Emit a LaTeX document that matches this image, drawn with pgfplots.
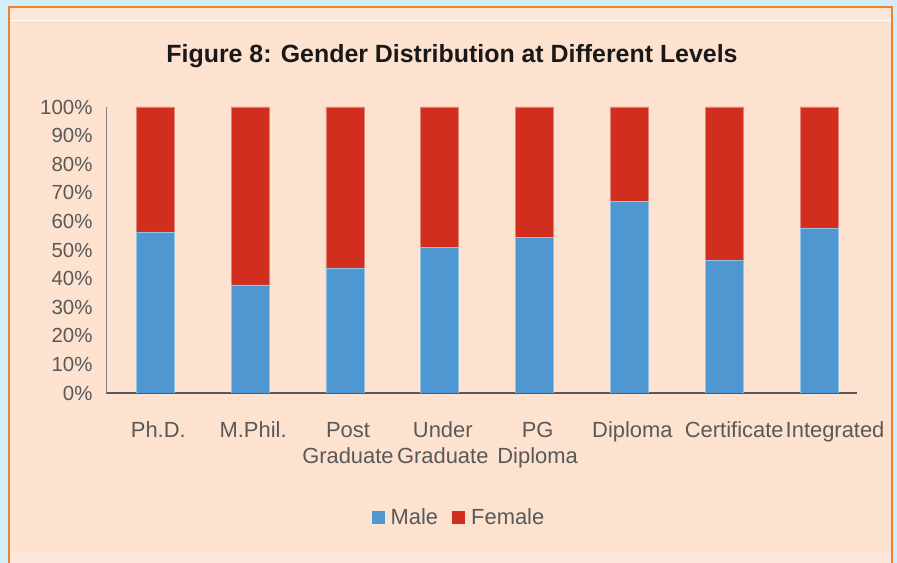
\documentclass[border=0pt]{standalone}
\usepackage{pgfplots}
\usepackage{pgfplotstable}
\pgfplotsset{compat=1.18}
\usepackage{fontspec}
\setmainfont{Liberation Sans}

\definecolor{bgblue}{HTML}{D2EEFA}
\definecolor{peach}{HTML}{FDE2CF}
\definecolor{peachlight}{HTML}{FCE7DA}
\definecolor{framec}{HTML}{EE8233}
\definecolor{male}{HTML}{4E97D1}
\definecolor{female}{HTML}{D12E1F}
\definecolor{txt}{HTML}{595959}

% share of male / female students, per level (%)
\pgfplotstableread{
x male female
0 56.3 43.7
1 37.8 62.2
2 43.7 56.3
3 50.9 49.1
4 54.3 45.7
5 67.0 33.0
6 46.3 53.7
7 57.7 42.3
}\gender

\begin{document}
\begin{tikzpicture}
\path[use as bounding box] (0bp,0bp) rectangle (897bp,563bp);
\fill[bgblue] (0bp,0bp) rectangle (897bp,563bp);
\fill[peach] (9bp,-5bp) rectangle (892bp,555bp);
\fill[peachlight] (10bp,543bp) rectangle (891bp,554bp);
\draw[white, line width=1bp] (10bp,542.5bp) -- (891bp,542.5bp);
\fill[peachlight] (10bp,0bp) rectangle (891bp,10bp);
\draw[framec, line width=2bp] (9bp,-5bp) -- (9bp,555.5bp) -- (892bp,555.5bp) -- (892bp,-5bp);
\node[font=\bfseries\fontsize{25}{30}\selectfont, text=black!90] at (452bp,507bp)
  {Figure 8: Gender Distribution at Different Levels};

\begin{axis}[
  at={(106bp,170bp)}, anchor=south west,
  scale only axis, width=751bp, height=286bp,
  ybar stacked, bar width=38bp,
  xmin=-0.52, xmax=7.4, ymin=0, ymax=100,
  axis x line*=bottom, axis y line*=left,
  x axis line style={txt, line width=1.5bp, -},
  y axis line style={black!50, line width=1bp, -},
  major tick length=0pt,
  ytick={0,10,...,100},
  yticklabel={\pgfmathprintnumber{\tick}\%},
  /pgf/number format/assume math mode=true,
  yticklabel style={font=\fontsize{20.5}{24}\selectfont, text=txt, xshift=-10bp},
  xtick={0,...,7},
  xticklabels={\strut Ph.D., \strut M.Phil., {\strut Post\\\strut Graduate}, {\strut Under\\\strut Graduate},
    {\strut PG\\\strut Diploma}, \strut Diploma, \strut\hspace*{14bp}Certificate, \strut\hspace*{26bp}Integrated},
  xticklabel style={font=\fontsize{22}{26}\selectfont, text=txt, align=center, anchor=north,
    yshift=-23bp, xshift=3bp},
  legend style={at={(0.47,-0.434)}, anchor=center, draw=none, fill=none,
    legend columns=2, font=\fontsize{22}{26}\selectfont, text=txt,
    /tikz/every odd column/.append style={column sep=4bp},
    /tikz/every even column/.append style={column sep=12bp}},
  legend image code/.code={\fill[#1, draw=none] (0bp,-6.5bp) rectangle (13bp,6.5bp);},
]
\addplot[fill=male, draw=male!60!white, line width=0.6bp] table[x=x, y=male] {\gender};
\addplot[fill=female, draw=female!60!white, line width=0.6bp] table[x=x, y=female] {\gender};
\legend{Male, Female}
\end{axis}
\end{tikzpicture}
\end{document}
